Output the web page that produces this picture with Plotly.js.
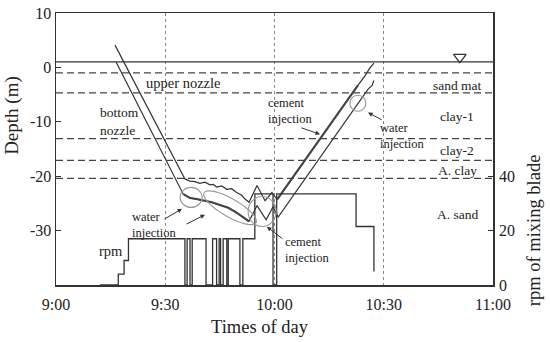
<!DOCTYPE html>
<html>
<head>
<meta charset="utf-8">
<script src="https://cdn.plot.ly/plotly-3.0.1.min.js"></script>
<style>
html,body{margin:0;padding:0;background:#fff;}
#chart{width:550px;height:342px;}
</style>
</head>
<body>
<div id="chart"></div>
<script>
// ---- data (time = minutes after 9:00, depth in m, rpm) ----
const tickMinutes = [0, 30, 60, 90, 120];
const tickLabels = ["9:00", "9:30", "10:00", "10:30", "11:00"];
const depthTicks = [10, 0, -10, -20, -30];
const depthTickLabels = ["10", "0", "-10", "-20", "-30"];
const rpmTicks = [0, 20, 40];

const upperTime  = [16.2, 35.4, 36.8, 38.2, 39.5, 40.9, 42.3, 43.2, 44.1, 45.5, 46.9, 48.2, 49.6, 51.0, 51.9, 53.0, 55.2, 57.4, 59.3, 60.7, 82.9, 84.8, 86.2, 87.3];
const upperDepth = [4.1, -20.5, -20.9, -21.0, -21.3, -21.1, -21.6, -21.5, -22.0, -21.8, -22.4, -22.3, -23.0, -23.5, -24.2, -24.8, -21.7, -24.5, -23.0, -24.3, -3.3, -1.6, -0.1, 0.8];

const lowerTime  = [16.5, 34.95, 36.8, 38.6, 40.4, 42.8, 45.0, 47.3, 49.6, 51.4, 53.0, 55.2, 57.7, 59.6, 61.0, 85.7, 86.8, 87.3];
const lowerDepth = [1.0, -23.3, -24.0, -24.2, -24.4, -24.8, -25.3, -25.8, -26.7, -27.5, -28.3, -25.4, -28.0, -25.6, -27.5, -4.0, -3.3, -2.4];

// segments drawn as double/thick lines
const lowerBottomTime  = [34.95, 36.8, 38.6, 40.4, 42.8, 45.0, 47.3, 49.6, 51.4, 53.0];
const lowerBottomDepth = [-23.3, -24.0, -24.2, -24.4, -24.8, -25.3, -25.8, -26.7, -27.5, -28.3];
const upperRiseTime  = [60.7, 82.9];
const upperRiseDepth = [-24.3, -3.3];

const rpmTime  = [12.1, 17.1, 18.7, 19.9, 35.4, 36.0, 36.8, 37.4, 41.2, 43.0, 44.1, 44.8, 45.2, 45.9, 46.9, 47.3, 50.5, 51.3, 54.6, 59.6, 60.6, 82.4, 87.3];
const rpmValue = [0, 4, 9, 17, 0, 17, 0, 17, 0, 17, 0, 17, 0, 17, 0, 17, 0, 17, 33.5, 0, 33.5, 21.5, 5];

const waterLevel = 1.0;
const waterMarkTime = [110.9];
const waterMarkDepth = [1.9];
const layerBoundaries = [-1.0, -4.7, -13.1, -17.1, -20.4];
const layerNames = ["sand mat", "clay-1", "clay-2", "A. clay", "A. sand"];
const layerLabelDepth = [-3.3, -9.0, -15.3, -19.0, -27.1];
const layerLabelTime = 110.2;

// ---- chart ----
const FONT = "Liberation Serif, Times New Roman, serif";
const INK = "#333";

const traces = [
  {x: upperTime, y: upperDepth, mode: "lines", line: {color: INK, width: 1.2}, hoverinfo: "skip"},
  {x: lowerTime, y: lowerDepth, mode: "lines", line: {color: INK, width: 1.2}, hoverinfo: "skip"},
  {x: lowerBottomTime, y: lowerBottomDepth, mode: "lines", line: {color: "#444", width: 2.1}, hoverinfo: "skip"},
  {x: upperRiseTime, y: upperRiseDepth, mode: "lines", line: {color: "#444", width: 2.1}, hoverinfo: "skip"},
  {x: rpmTime, y: rpmValue, yaxis: "y2", mode: "lines", line: {color: INK, width: 1.3, shape: "hv"}, hoverinfo: "skip"},
  {x: waterMarkTime, y: waterMarkDepth, mode: "markers", marker: {symbol: "triangle-down-open", size: 11, color: INK, line: {width: 1.3, color: INK}}, hoverinfo: "skip"}
];

const shapes = [];
shapes.push({type: "line", xref: "paper", x0: 0, x1: 1, yref: "y", y0: waterLevel, y1: waterLevel, line: {color: INK, width: 1.2}});
layerBoundaries.forEach(d => shapes.push({type: "line", xref: "paper", x0: 0, x1: 1, yref: "y", y0: d, y1: d, line: {color: "#444", width: 1.2, dash: "7px,4px"}}));

function pixelCircle(t, d, rx, ry) {
  return {type: "circle", xref: "x", yref: "y", xsizemode: "pixel", ysizemode: "pixel",
    xanchor: t, yanchor: d, x0: -rx, x1: rx, y0: -ry, y1: ry, line: {color: "#999", width: 1.1}};
}
shapes.push(pixelCircle(37.1, -23.9, 11, 10));
shapes.push(pixelCircle(56.6, -26.5, 14, 15));
shapes.push(pixelCircle(82.9, -6.6, 8, 8));
// tilted ellipse
(function(){
  const a = 30, b = 9, phi = -30 * Math.PI / 180;
  let p = "";
  for (let i = 0; i <= 48; i++) {
    const th = i / 48 * 2 * Math.PI;
    const x = a * Math.cos(th) * Math.cos(phi) - b * Math.sin(th) * Math.sin(phi);
    const y = a * Math.cos(th) * Math.sin(phi) + b * Math.sin(th) * Math.cos(phi);
    p += (i === 0 ? "M" : "L") + x.toFixed(2) + "," + y.toFixed(2);
  }
  p += "Z";
  shapes.push({type: "path", xref: "x", yref: "y", xsizemode: "pixel", ysizemode: "pixel",
    xanchor: 47.8, yanchor: -25.8, path: p, line: {color: "#999", width: 1.1}});
})();

const ann = [];
function txt(t, d, s, size, anchor) {
  ann.push({x: t, y: d, xref: "x", yref: "y", text: s, showarrow: false, xanchor: anchor || "center", yanchor: "middle",
    align: anchor === "left" ? "left" : "center",
    font: {family: FONT, size: size || 13.5, color: "#222"}});
}
txt(34.9, -2.9, "upper nozzle", 14.5);
txt(11.5, -10.0, "bottom<br>nozzle", 13.5, "left");
txt(57.7, -8.1, "cement<br>injection", 12.5, "left");
txt(88.4, -12.7, "water<br>injection", 12.5, "left");
txt(20.3, -29.0, "water<br>injection", 12.5, "left");
txt(62.3, -33.5, "cement<br>injection", 12.5, "left");
txt(15.1, -33.7, "rpm", 14.5);
layerNames.forEach((n, i) => txt(layerLabelTime, layerLabelDepth[i], n, 13.5));

function arrow(t, d, ax, ay) {
  ann.push({x: t, y: d, xref: "x", yref: "y", ax: ax, ay: ay, text: "", showarrow: true,
    arrowhead: 2, arrowsize: 0.9, arrowwidth: 1, arrowcolor: INK});
}
arrow(72.5, -12.3, -20, -7);
arrow(85.7, -8.3, 15, 8);
arrow(34.6, -26.0, -19, 11);
arrow(40.9, -27.1, -20, 10);
arrow(57.9, -29.3, 17, 13);

// axis titles
ann.push({xref: "paper", yref: "paper", x: -0.101, y: 0.625, xanchor: "center", yanchor: "middle", text: "Depth (m)", textangle: -90, showarrow: false,
  font: {family: FONT, size: 19, color: "#222"}});
ann.push({xref: "paper", yref: "paper", x: 1.094, y: 0.202, xanchor: "center", yanchor: "middle", text: "rpm of mixing blade", textangle: -90, showarrow: false,
  font: {family: FONT, size: 18.5, color: "#222"}});
ann.push({xref: "paper", yref: "paper", x: 0.467, y: -0.154, xanchor: "center", yanchor: "middle", text: "Times of day", showarrow: false,
  font: {family: FONT, size: 18.5, color: "#222"}});

const layout = {
  width: 550, height: 342,
  margin: {l: 56, r: 57, t: 13, b: 57},
  paper_bgcolor: "#fff", plot_bgcolor: "#fff",
  showlegend: false,
  font: {family: FONT, color: "#222"},
  xaxis: {range: [0, 120], tickvals: tickMinutes, ticktext: tickLabels, showgrid: true, griddash: "dot",
    gridcolor: "#888", gridwidth: 1, zeroline: false, showline: true, mirror: true, linecolor: INK, linewidth: 1.5,
    ticks: "", ticklabelstandoff: 4, tickfont: {family: FONT, size: 16, color: "#222"}},
  yaxis: {range: [-40, 10], tickvals: depthTicks, ticktext: depthTickLabels, showgrid: false, zeroline: false,
    showline: true, mirror: true, linecolor: INK, linewidth: 1.5, ticks: "inside", ticklen: 5, tickcolor: INK,
    tickfont: {family: FONT, size: 16, color: "#222"}},
  yaxis2: {range: [0, 100], overlaying: "y", side: "right", tickvals: rpmTicks, showgrid: false, zeroline: false,
    showline: false, ticks: "inside", ticklen: 5, tickcolor: INK, ticklabelstandoff: 5,
    tickfont: {family: FONT, size: 16, color: "#222"}},
  shapes: shapes,
  annotations: ann
};

Plotly.newPlot("chart", traces, layout, {displayModeBar: false, staticPlot: true});
</script>
</body>
</html>
